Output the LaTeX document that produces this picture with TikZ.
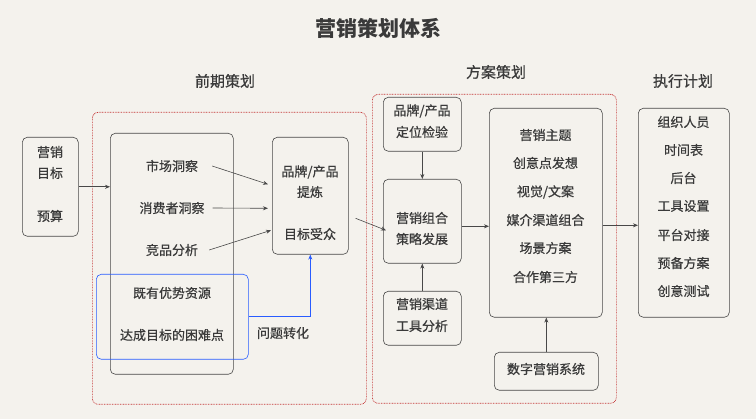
\documentclass[tikz,border=0pt]{standalone}
\usepackage{fontspec}
\setmainfont{Noto Sans CJK SC}
\newfontfamily\zhmid{Noto Sans CJK SC}[FakeBold=0.6]
\usetikzlibrary{arrows.meta}
\definecolor{paper}{RGB}{244,242,237}
\definecolor{ink}{RGB}{58,58,58}
\definecolor{edge}{RGB}{72,72,72}
\definecolor{planred}{RGB}{196,52,52}
\definecolor{fixblue}{RGB}{40,92,255}
\begin{document}
\begin{tikzpicture}[x=1pt,y=-1pt,
  box/.style={draw=edge, line width=0.6pt, rounded corners=5pt, anchor=north west, inner sep=0pt},
  plan/.style={draw=planred, line width=0.7pt, dash pattern=on 0.8pt off 0.8pt, rounded corners=6pt, anchor=north west, inner sep=0pt},
  txt/.style={text=ink, font=\zhmid\fontsize{13}{15}\selectfont, inner sep=1pt},
  head/.style={text=ink, font=\zhmid\fontsize{15}{17}\selectfont},
  arr/.style={draw=edge, line width=0.6pt, -{Stealth[length=5pt,width=4pt]}}]
\fill[paper] (0,0) rectangle (756,419);
\useasboundingbox (0,0) rectangle (756,419);

\node[text=ink, font=\fontsize{21}{24}\selectfont\bfseries] (title) at (378,28) {营销策划体系};
\node[head] (pre) at (225,81) {前期策划};
\node[head] (plan) at (496,72) {方案策划};
\node[head] (exe) at (683,81) {执行计划};

\node[plan, minimum width=274pt, minimum height=292pt] (red1) at (92,112) {};
\node[plan, minimum width=244pt, minimum height=309pt] (red2) at (372,94) {};

\node[box, minimum width=56pt, minimum height=99pt] (goal) at (22,137) {};
\node[txt] at (50,152) {营销};
\node[txt] at (50,173) {目标};
\node[txt] at (50,216) {预算};

\node[box, minimum width=123pt, minimum height=241pt] (insight) at (110,133) {};
\node[txt] (mkt) at (172,166) {市场洞察};
\node[txt] (cons) at (172,208) {消费者洞察};
\node[txt] (comp) at (172,250) {竞品分析};
\node[txt] (res) at (172,293) {既有优势资源};
\node[txt] (diff) at (172,335) {达成目标的困难点};
\node[box, draw=fixblue, minimum width=152pt, minimum height=85pt] (blue) at (96,274) {};

\node[box, minimum width=76pt, minimum height=117pt] (refine) at (272,137) {};
\node[txt] at (310,172) {品牌/产品};
\node[txt] at (310,192) {提炼};
\node[txt] at (310,234) {目标受众};
\node[txt] (turn) at (283,333) {问题转化};

\node[box, minimum width=78pt, minimum height=54pt] (posi) at (383,97) {};
\node[txt] at (422,111) {品牌/产品};
\node[txt] at (422,132) {定位检验};
\node[box, minimum width=78pt, minimum height=84pt] (mix) at (383,179) {};
\node[txt] at (422,218) {营销组合};
\node[txt] at (422,239) {策略发展};
\node[box, minimum width=78pt, minimum height=54pt] (chan) at (383,291) {};
\node[txt] at (422,304) {营销渠道};
\node[txt] at (422,326) {工具分析};

\node[box, minimum width=113pt, minimum height=209pt] (content) at (489,108) {};
\node[txt] at (545.5,135) {营销主题};
\node[txt] at (545.5,163) {创意点发想};
\node[txt] at (545.5,192) {视觉/文案};
\node[txt] at (545.5,220) {媒介渠道组合};
\node[txt] at (545.5,248) {场景方案};
\node[txt] at (545.5,277) {合作第三方};
\node[box, minimum width=104pt, minimum height=38pt] (digi) at (494,352) {};
\node[txt] at (546,369) {数字营销系统};

\node[box, minimum width=91pt, minimum height=209pt] (exec) at (638,108) {};
\node[txt] at (683.5,122) {组织人员};
\node[txt] at (683.5,150) {时间表};
\node[txt] at (683.5,178) {后台};
\node[txt] at (683.5,206) {工具设置};
\node[txt] at (683.5,235) {平台对接};
\node[txt] at (683.5,263) {预备方案};
\node[txt] at (683.5,291) {创意测试};

\draw[arr] (goal.east) -- (goal.east -| insight.west);
\draw[arr] ([xshift=13pt]mkt.east) -- ([xshift=-4pt,yshift=11.5pt]refine.west);
\draw[arr] ([xshift=7pt]cons.east) -- ([xshift=-4pt,yshift=-12.5pt]refine.west);
\draw[arr] ([xshift=10pt]comp.east) -- ([xshift=-1pt,yshift=-34.5pt]refine.west);
\draw[arr, draw=fixblue, line width=1pt] (blue.east) -| (refine.south);
\draw[arr] ([xshift=7pt,yshift=-22.5pt]refine.east) -- ([xshift=3pt,yshift=-9pt]mix.west);
\draw[arr] (posi.south) -- (mix.north);
\draw[arr] (chan.north) -- (mix.south);
\draw[arr] ([yshift=-5pt]mix.east) -- ([yshift=-5pt]mix.east -| content.west);
\draw[arr] (digi.north) -- (digi.north |- content.south);
\draw[arr] ([yshift=-12.5pt]content.east) -- ([yshift=-12.5pt]content.east -| exec.west);
\end{tikzpicture}
\end{document}
